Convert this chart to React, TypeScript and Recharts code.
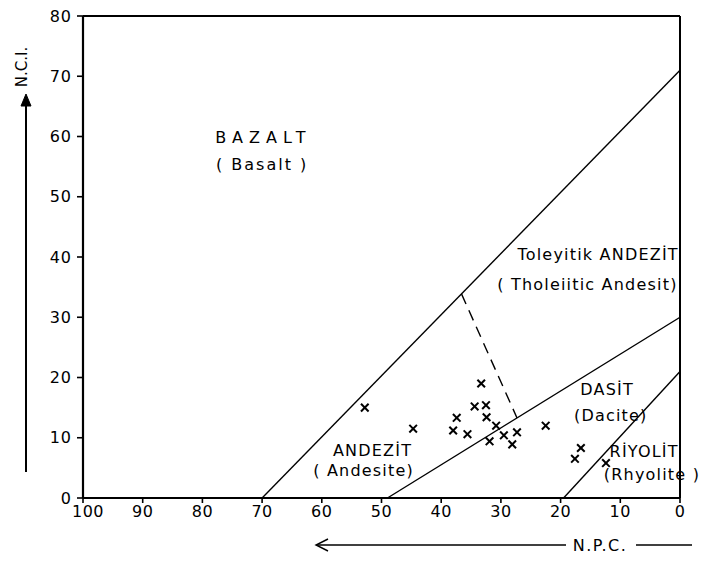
import { ScatterChart, Scatter, XAxis, YAxis, ReferenceLine } from "recharts";

// N.P.C. (x, reversed) and N.C.I. (y) of the samples
const npc = [52.8, 44.7, 33.3, 34.4, 32.5, 37.4, 32.4, 38.0, 35.6, 30.8, 31.9, 29.5, 27.3, 28.1, 22.5, 17.6, 16.6, 12.4];
const nci = [15.0, 11.5, 19.0, 15.2, 15.4, 13.3, 13.4, 11.2, 10.6, 12.0, 9.4, 10.4, 10.9, 8.9, 12.0, 6.5, 8.3, 5.8];

const xTicks = [100, 90, 80, 70, 60, 50, 40, 30, 20, 10, 0];
const yTicks = [0, 10, 20, 30, 40, 50, 60, 70, 80];

// field boundaries: start on the N.P.C. axis, end on the N.C.I. axis
const boundaryStartX = [70, 49, 19.5];
const boundaryEndY = [71, 30, 21];

// dashed divider between andesite and tholeiitic andesite
const dividerX = [36.6, 27.3];

const labelText = [
  "BAZALT", "( Basalt )",
  "Toleyitik ANDEZİT", "( Tholeiitic Andesit)",
  "ANDEZİT", "( Andesite)",
  "DASİT", "(Dacite)",
  "RİYOLİT", "(Rhyolite )",
];
const labelX = [69.8, 70.0, 0.2, 0.4, 51.5, 53.0, 12.2, 11.6, 6.0, 4.7];
const labelY = [59.9, 55.3, 40.4, 35.5, 7.9, 4.6, 18.0, 13.7, 7.8, 3.9];

const ink = "#000";
const font = "'DejaVu Sans', sans-serif";

const lineOf = (i: number) => {
  const y = (x: number) => (boundaryEndY[i] * (boundaryStartX[i] - x)) / boundaryStartX[i];
  return y;
};

const samples = npc.map((x, i) => ({ x, y: nci[i] }));
const labels = labelText.map((text, i) => ({ x: labelX[i], y: labelY[i], text, i }));

const Cross = (props: any) => {
  const { cx, cy } = props;
  const s = 3.8;
  return (
    <g stroke={ink} strokeWidth={2}>
      <line x1={cx - s} y1={cy - s} x2={cx + s} y2={cy + s} />
      <line x1={cx - s} y1={cy + s} x2={cx + s} y2={cy - s} />
    </g>
  );
};

const TextMark = (props: any) => {
  const { cx, cy, payload } = props;
  const i = payload.i;
  const anchor = i === 2 || i === 3 ? "end" : "middle";
  const spacing = i === 0 ? 6 : i === 1 ? 2 : 1.2;
  return (
    <text
      x={cx}
      y={cy}
      textAnchor={anchor}
      dominantBaseline="central"
      fontSize={16}
      fontFamily={font}
      letterSpacing={spacing}
      fill={ink}
    >
      {payload.text}
    </text>
  );
};

// x tick: the "100" sits a little right of its tick, clear of the y "0"
const XTick = (props: any) => {
  const { x, y, payload } = props;
  const shift = payload.value === 100 ? 5 : 0;
  return (
    <text
      x={x + shift}
      y={y}
      dy="0.71em"
      textAnchor="middle"
      fontSize={16}
      fontFamily={font}
      letterSpacing={0.5}
      fill={ink}
    >
      {payload.value}
    </text>
  );
};

export default function App() {
  const divY0 = lineOf(0)(dividerX[0]);
  const divY1 = lineOf(1)(dividerX[1]);
  const tick = { fill: ink, fontSize: 16, fontFamily: font, letterSpacing: 1 };

  return (
    <div style={{ position: "absolute", left: 0, top: 0, width: 711, height: 561, background: "#fff" }}>
      <ScatterChart width={711} height={561} margin={{ top: 16, right: 31, bottom: 33, left: 43 }}>
        <XAxis
          type="number"
          dataKey="x"
          domain={[0, 100]}
          reversed
          ticks={xTicks}
          interval={0}
          tick={XTick}
          tickSize={5}
          tickMargin={3}
          height={30}
          axisLine={{ stroke: ink, strokeWidth: 2.2 }}
          tickLine={{ stroke: ink, strokeWidth: 1.6 }}
        />
        <YAxis
          type="number"
          dataKey="y"
          domain={[0, 80]}
          ticks={yTicks}
          interval={0}
          tick={tick}
          tickSize={6}
          tickMargin={5}
          width={40}
          axisLine={{ stroke: ink, strokeWidth: 2.2 }}
          tickLine={{ stroke: ink, strokeWidth: 1.6 }}
        />
        <ReferenceLine y={80} stroke={ink} strokeWidth={2} />
        <ReferenceLine x={0} stroke={ink} strokeWidth={2} />
        {boundaryStartX.map((x0, i) => (
          <ReferenceLine
            key={i}
            segment={[{ x: x0, y: 0 }, { x: 0, y: boundaryEndY[i] }]}
            stroke={ink}
            strokeWidth={1.4}
          />
        ))}
        <ReferenceLine
          segment={[{ x: dividerX[0], y: divY0 }, { x: dividerX[1], y: divY1 }]}
          stroke={ink}
          strokeWidth={1.4}
          strokeDasharray="11 7"
        />
        <Scatter data={samples} shape={Cross} isAnimationActive={false} />
        <Scatter data={labels} shape={TextMark} isAnimationActive={false} />
      </ScatterChart>
      <svg
        width={711}
        height={561}
        style={{ position: "absolute", left: 0, top: 0, pointerEvents: "none" }}
      >
        <g stroke={ink} fill="none" strokeWidth={2}>
          <line x1={26} y1={472} x2={26} y2={98} />
          <path d="M21,106 L26,94 L31,106 Z" fill={ink} strokeWidth={1} />
          <line x1={317} y1={545} x2={566} y2={545} strokeWidth={1.4} />
          <path d="M328,539 L316,545 L328,551" strokeWidth={1.4} />
          <line x1={636} y1={545} x2={692} y2={545} strokeWidth={1.4} />
        </g>
        <text
          x={22}
          y={67}
          transform="rotate(-90 22 67)"
          textAnchor="middle"
          dominantBaseline="central"
          fontSize={15}
          fontFamily={font}
          fill={ink}
        >
          N.C.I.
        </text>
        <text
          x={600}
          y={545}
          textAnchor="middle"
          dominantBaseline="central"
          fontSize={16}
          fontFamily={font}
          letterSpacing={1.5}
          fill={ink}
        >
          N.P.C.
        </text>
      </svg>
    </div>
  );
}
